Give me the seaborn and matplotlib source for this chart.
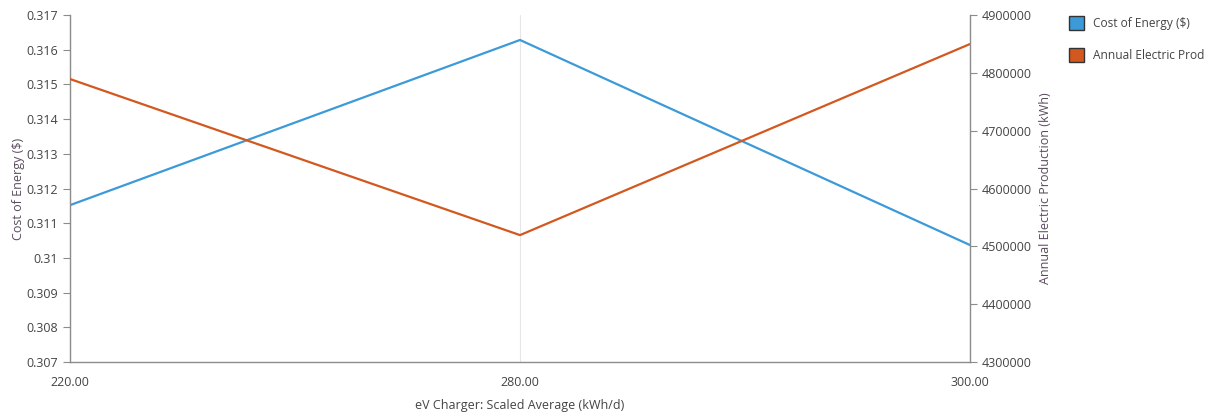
import matplotlib
matplotlib.use("Agg")
import pandas as pd
import seaborn as sns
from matplotlib import pyplot as plt
from matplotlib.patches import Patch

# data
charger = ["220.00", "280.00", "300.00"]
cost_of_energy = [0.31152, 0.31628, 0.31037]
annual_production = [4789300, 4519400, 4849800]

blue = "#3c9ad8"
orange = "#d2581f"
txt = "#444444"
axcol = "#8c8c8c"

sns.set_style("white")
plt.rcParams["font.family"] = ["Open Sans", "DejaVu Sans"]
plt.rcParams["font.size"] = 9

df = pd.DataFrame({"charger": charger, "cost": cost_of_energy, "prod": annual_production})

fig = plt.figure(figsize=(12.15, 4.19), dpi=100)
ax = fig.add_axes([70 / 1215, 1 - 362 / 419, 900 / 1215, 347 / 419])
ax2 = ax.twinx()

sns.lineplot(data=df, x="charger", y="cost", ax=ax, color=blue, lw=1.6, sort=False)
sns.lineplot(data=df, x="charger", y="prod", ax=ax2, color=orange, lw=1.6, sort=False)

ax.set_xlim(0, len(charger) - 1)
ax.set_ylim(0.307, 0.317)
ax.set_yticks([0.307 + i * 0.001 for i in range(11)])
ax.set_yticklabels(["%g" % round(0.307 + i * 0.001, 3) for i in range(11)])
ax2.set_ylim(4300000, 4900000)
ax2.set_yticks(range(4300000, 4900001, 100000))
ax2.set_yticklabels([str(v) for v in range(4300000, 4900001, 100000)])

ax.xaxis.grid(True, color="#e6e6e6", lw=0.8)
ax.set_axisbelow(True)

ax.set_xlabel("eV Charger: Scaled Average (kWh/d)", color=txt, fontsize=9, labelpad=7)
ax.set_ylabel("Cost of Energy ($)", color="#5a4a5e", fontsize=9, labelpad=1)
ax2.set_ylabel("Annual Electric Production (kWh)", color="#5a4a5e", fontsize=9, labelpad=5)

for a in (ax, ax2):
    for s in a.spines.values():
        s.set_visible(False)
    a.tick_params(colors=axcol, labelcolor=txt, length=5, width=0.8, labelsize=9)
ax.spines["left"].set_visible(True)
ax.spines["bottom"].set_visible(True)
ax2.spines["right"].set_visible(True)
for s in (ax.spines["left"], ax.spines["bottom"], ax2.spines["right"]):
    s.set_color(axcol)
    s.set_linewidth(1)
ax.tick_params(axis="x", pad=5)

handles = [Patch(facecolor=blue, edgecolor="#333333", lw=1),
           Patch(facecolor=orange, edgecolor="#333333", lw=1)]
fig.legend(handles, ["Cost of Energy ($)", "Annual Electric Prod"],
           loc="upper left", bbox_to_anchor=(1058 / 1215, 1 - 5 / 419),
           frameon=False, fontsize=8.6, handlelength=1.3, handleheight=1.4,
           labelspacing=1.55, handletextpad=0.75, labelcolor=txt)

fig.savefig("out.png", dpi=100)
